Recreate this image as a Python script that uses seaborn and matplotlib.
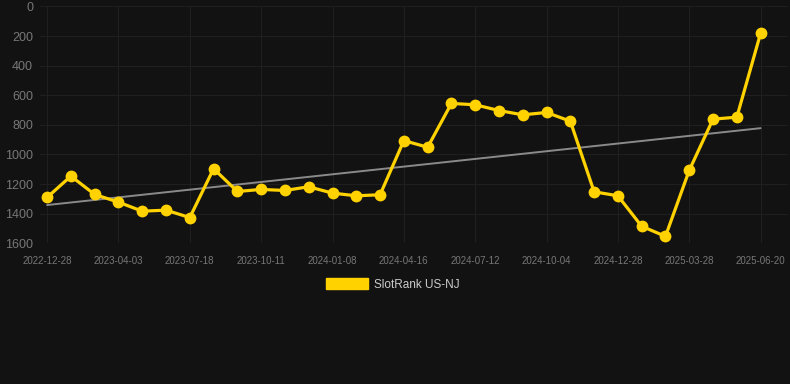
import numpy as np
import pandas as pd
import matplotlib
matplotlib.use("Agg")
import matplotlib.pyplot as plt
import matplotlib.patches as mpatches
import seaborn as sns

# rank values (lower = better, axis inverted)
ranks = [1290, 1146, 1270, 1322, 1383, 1376, 1426, 1096, 1250, 1236,
         1243, 1218, 1261, 1279, 1272, 906, 951, 655, 664, 703,
         732, 716, 775, 1252, 1279, 1485, 1553, 1107, 761, 748, 181]
tick_labels = ["2022-12-28", "2023-04-03", "2023-07-18", "2023-10-11", "2024-01-08",
               "2024-04-16", "2024-07-12", "2024-10-04", "2024-12-28", "2025-03-28",
               "2025-06-20"]
series_name = "SlotRank US-NJ"

bg = "#121212"
yellow = "#ffd200"

sns.set_style("dark")
plt.rcParams["font.family"] = ["Liberation Sans", "DejaVu Sans"]

df = pd.DataFrame({"idx": np.arange(len(ranks)), "rank": ranks})

fig = plt.figure(figsize=(7.9, 3.84), dpi=100, facecolor=bg)
ax = fig.add_axes([0.0506, 0.3664, 0.9468, 0.6167])
ax.set_facecolor(bg)

# linear trend over the series
coef = np.polyfit(df["idx"], df["rank"], 1)
trend = np.polyval(coef, df["idx"])
ax.plot(df["idx"], trend, color="#8a8a8a", lw=1.4, zorder=2)

sns.lineplot(data=df, x="idx", y="rank", ax=ax, color=yellow, lw=2.3,
             marker="o", markersize=8.5, markeredgewidth=0, zorder=3)

ax.set_ylim(1600, 0)
ax.set_xlim(-0.3, 31.15)
ax.set_yticks(range(0, 1601, 200))
ax.set_xticks(np.arange(0, len(ranks), 3))
ax.set_xticklabels(tick_labels)
ax.tick_params(axis="y", colors="#777777", labelsize=9, length=0, pad=5)
ax.tick_params(axis="x", colors="#777777", labelsize=7, length=5, width=0.8,
               pad=4, color="#222222")
ax.set_xlabel("")
ax.set_ylabel("")
ax.grid(True, color="#1f1f1f", lw=0.8)
for s in ax.spines.values():
    s.set_visible(False)

handle = mpatches.Patch(color=yellow, label=series_name)
fig.legend(handles=[handle], loc="center", bbox_to_anchor=(0.497, 0.26),
           frameon=False, fontsize=8.5, labelcolor="#cccccc",
           handlelength=3.6, handleheight=1.1, handletextpad=0.5)

fig.savefig("out.png", dpi=100, facecolor=bg)
